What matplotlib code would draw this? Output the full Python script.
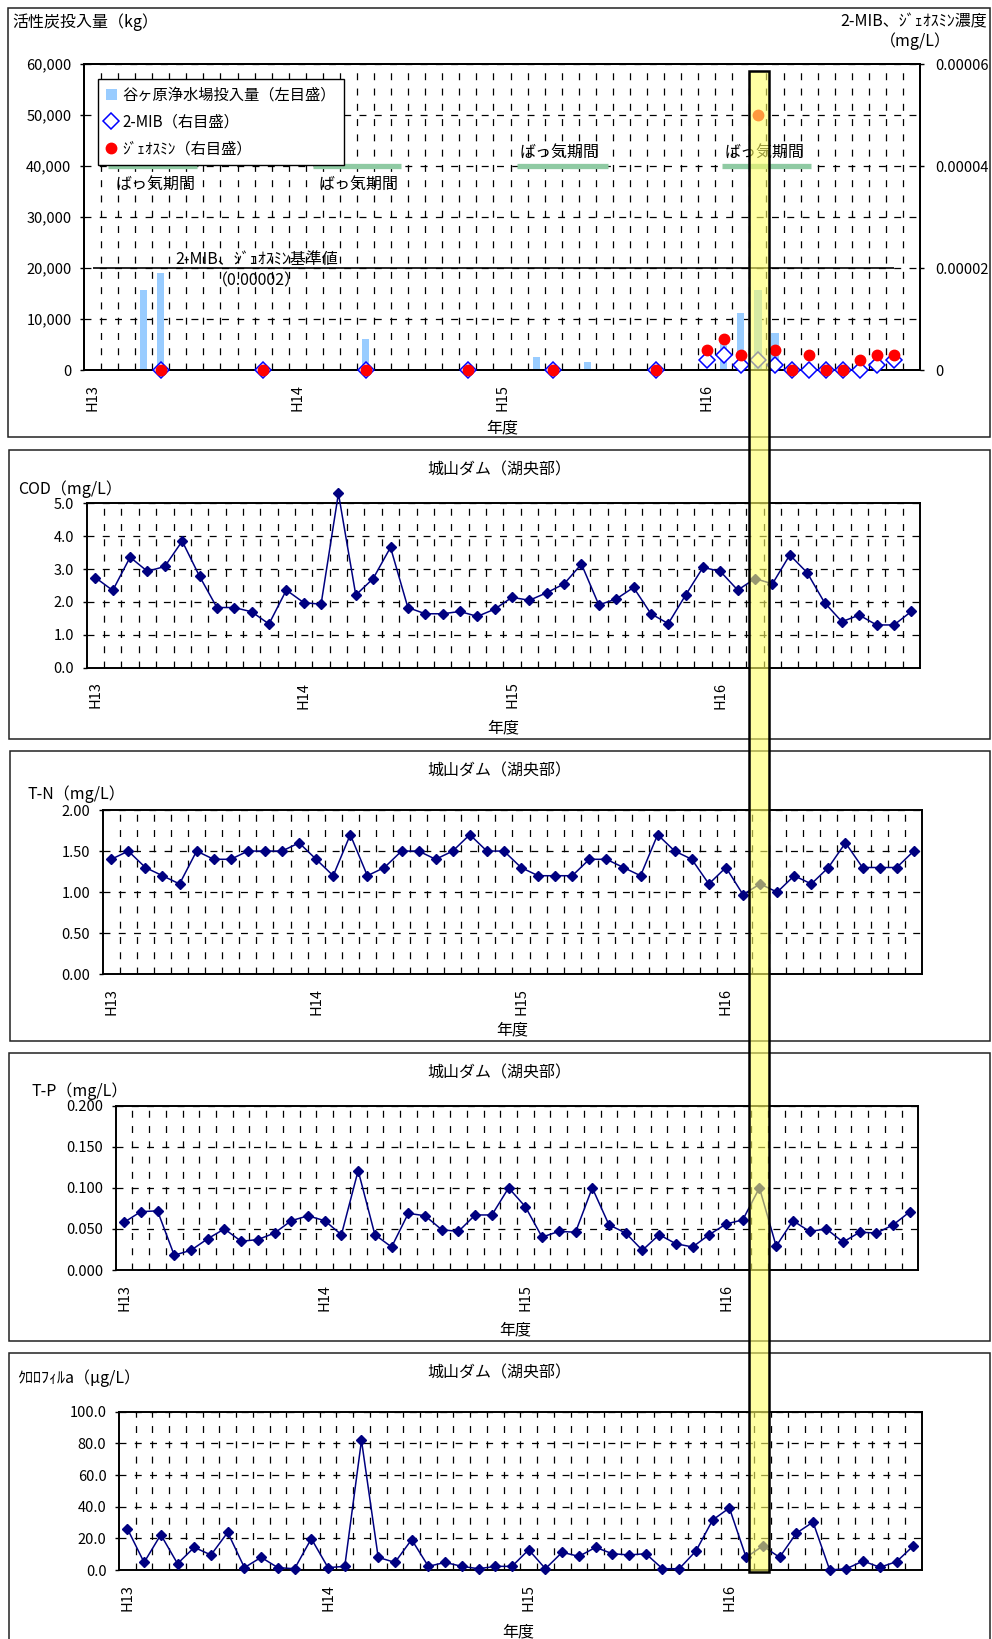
import numpy as np
import matplotlib
matplotlib.use('Agg')
import matplotlib.pyplot as plt
from matplotlib.patches import Rectangle
from matplotlib.ticker import FuncFormatter

plt.rcParams['font.family'] = ['Noto Sans CJK JP', 'DejaVu Sans']
plt.rcParams['font.size'] = 11.5
plt.rcParams['xtick.labelsize'] = 10.5
plt.rcParams['ytick.labelsize'] = 10.5
plt.rcParams['lines.scale_dashes'] = False

# activated carbon dosing at the Yagahara plant (month index from H13 April)
carbon_month = [3, 4, 16, 26, 29, 37, 38, 39, 40]
carbon_kg = [15700, 19000, 6000, 2500, 1600, 5500, 11200, 15700, 7300]

# odour compounds (mg/L)
odor_month = [4, 10, 16, 22, 27, 33, 36, 37, 38, 39, 40, 41, 42, 43, 44, 45, 46, 47]
mib = [0, 0, 0, 0, 0, 0, 2e-6, 3e-6, 1e-6, 2e-6, 1e-6, 0, 0, 0, 0, 0, 1e-6, 2e-6]
geosmin = [0, 0, 0, 0, 0, 0, 4e-6, 6e-6, 3e-6, 5e-5, 4e-6, 0, 3e-6, 0, 0, 2e-6, 3e-6, 3e-6]
odor_standard = 0.00002

# aeration periods (month index, start/end)
aeration = [(0.9, 6.1), (12.9, 18.1), (24.9, 30.2), (36.9, 42.1)]

year_labels = ['H13', 'H14', 'H15', 'H16']

# Shiroyama dam, lake centre, monthly
cod = [2.74, 2.35, 3.36, 2.93, 3.08, 3.85, 2.78, 1.83, 1.83, 1.70, 1.33, 2.36,
       1.98, 1.93, 5.30, 2.21, 2.71, 3.66, 1.83, 1.64, 1.64, 1.71, 1.56, 1.78,
       2.14, 2.05, 2.28, 2.55, 3.15, 1.91, 2.09, 2.44, 1.64, 1.34, 2.21, 3.05,
       2.93, 2.36, 2.71, 2.55, 3.43, 2.89, 1.98, 1.40, 1.60, 1.30, 1.30, 1.71]
tn = [1.4, 1.5, 1.3, 1.2, 1.1, 1.5, 1.4, 1.4, 1.5, 1.5, 1.5, 1.6,
      1.4, 1.2, 1.7, 1.2, 1.3, 1.5, 1.5, 1.4, 1.5, 1.7, 1.5, 1.5,
      1.3, 1.2, 1.2, 1.2, 1.4, 1.4, 1.3, 1.2, 1.7, 1.5, 1.4, 1.1,
      1.3, 0.97, 1.1, 1.0, 1.2, 1.1, 1.3, 1.6, 1.3, 1.3, 1.3, 1.5]
tp = [0.058, 0.071, 0.072, 0.018, 0.024, 0.038, 0.050, 0.035, 0.037, 0.045, 0.060, 0.066,
      0.060, 0.043, 0.121, 0.043, 0.028, 0.069, 0.066, 0.049, 0.047, 0.067, 0.067, 0.100,
      0.077, 0.040, 0.047, 0.046, 0.100, 0.055, 0.045, 0.024, 0.043, 0.032, 0.028, 0.043,
      0.056, 0.061, 0.100, 0.029, 0.060, 0.047, 0.050, 0.034, 0.046, 0.045, 0.055, 0.071]
chla = [26.1, 4.8, 22.3, 4.0, 14.3, 9.5, 23.8, 1.5, 8.0, 1.5, 0.8, 19.8,
        1.5, 2.3, 81.9, 8.0, 4.8, 19.2, 2.3, 4.8, 2.3, 0.8, 2.3, 2.3,
        12.8, 0.8, 11.2, 8.6, 14.3, 10.3, 9.5, 10.3, 0.8, 0.8, 12.0, 31.6,
        39.2, 8.0, 15.2, 8.0, 23.2, 30.3, 0.0, 0.8, 5.7, 1.7, 5.3, 15.2]

W, H = 992, 1639
fig = plt.figure(figsize=(W / 100, H / 100), dpi=100)

DASH = (0, (5, 6))
NAVY = '#000080'


def px_axes(left, top, right, bottom):
    return fig.add_axes([left / W, 1 - bottom / H, (right - left) / W, (bottom - top) / H])


def px_text(x, y, s, **kw):
    kw.setdefault('va', 'center')
    return fig.text(x / W, 1 - y / H, s, **kw)


def panel_border(left, top, right, bottom):
    fig.add_artist(Rectangle((left / W, 1 - bottom / H), (right - left) / W, (bottom - top) / H,
                             transform=fig.transFigure, fill=False, ec='#222222', lw=1.1, zorder=2))


def style_axes(ax, ncat):
    ax.set_xlim(-0.5, ncat - 0.5)
    ax.set_xticks([0, 12, 24, 36])
    ax.set_xticklabels(year_labels, rotation=90, va='top')
    ax.set_xticks(np.arange(0.5, ncat - 1, 1), minor=True)
    ax.tick_params(axis='x', which='both', length=0, pad=10)
    ax.tick_params(axis='y', which='major', length=3, width=1, direction='out', pad=6)
    ax.grid(axis='x', which='minor', color='black', lw=0.9, ls=DASH)
    ax.grid(axis='y', which='major', color='black', lw=0.9, ls=DASH)
    for sp in ax.spines.values():
        sp.set_linewidth(1.4)
    ax.set_axisbelow(True)


# ---- activated carbon and odour compounds ----
panel_border(8, 8, 990, 437)
ax1 = px_axes(84, 64, 920, 370)
style_axes(ax1, 49)
bars = ax1.bar(carbon_month, carbon_kg, width=0.42, color='#99ccff', zorder=2,
               label='谷ヶ原浄水場投入量（左目盛）')
ax1.set_ylim(0, 60000)
ax1.set_yticks(np.arange(0, 60001, 10000))
ax1.yaxis.set_major_formatter(FuncFormatter(lambda v, p: f'{int(v):,}'))

for start, end in aeration:
    ax1.plot([start, end], [40000, 40000], color='#8fcaa3', lw=3.8, solid_capstyle='butt', zorder=3)
ax1.text(3.7, 36400, 'ばっ気期間', ha='center', va='center', zorder=4)
ax1.text(15.6, 36400, 'ばっ気期間', ha='center', va='center', zorder=4)
ax1.text(27.4, 42700, 'ばっ気期間', ha='center', va='center', zorder=4)
ax1.text(39.4, 42700, 'ばっ気期間', ha='center', va='center', zorder=4)

ax2 = ax1.twinx()
ax2.set_xlim(-0.5, 48.5)
ax2.set_ylim(0, 0.00006)
ax2.set_yticks([0, 0.00002, 0.00004, 0.00006])
ax2.set_yticklabels(['0', '0.00002', '0.00004', '0.00006'])
ax2.tick_params(axis='y', length=3, width=1, direction='out', pad=8)
for sp in ax2.spines.values():
    sp.set_linewidth(1.4)
ax2.hlines(odor_standard, 0, 47, color='black', lw=1.2, zorder=3)
ax2.text(9.6, 0.0000216, '2-MIB、ｼﾞｪｵｽﾐﾝ基準値', ha='center', va='center')
ax2.text(9.6, 0.0000174, '（0.00002）', ha='center', va='center')
mib_line, = ax2.plot(odor_month, mib, ls='none', marker='D', ms=8, mfc='white',
                     mec='#0000ff', mew=1.1, zorder=5, clip_on=False, label='2-MIB（右目盛）')
geo_line, = ax2.plot(odor_month, geosmin, ls='none', marker='o', ms=7.5, mfc='#ff0000',
                     mec='#ff0000', zorder=6, clip_on=False, label='ｼﾞｪｵｽﾐﾝ（右目盛）')

leg = ax2.legend(handles=[bars, mib_line, geo_line], loc='upper left',
                 bbox_to_anchor=(98 / W, 1 - 79 / H), bbox_transform=fig.transFigure,
                 fancybox=False, framealpha=1, edgecolor='black', borderaxespad=0,
                 handlelength=0.75, handleheight=0.75, handletextpad=0.35,
                 labelspacing=0.65, borderpad=0.5, fontsize=11)
leg.get_frame().set_linewidth(1.0)
leg.set_zorder(10)

px_text(12, 22, '活性炭投入量（kg）', ha='left')
px_text(987, 22, '2-MIB、ｼﾞｪｵｽﾐﾝ濃度', ha='right')
px_text(915, 41, '（mg/L）', ha='center')
px_text(502, 428, '年度', ha='center')


# ---- water quality panels ----
def quality_panel(box, plot, values, ymax, ystep, fmt, ylabel, ylabel_xy, title_y, nendo_xy):
    panel_border(*box)
    ax = px_axes(*plot)
    style_axes(ax, len(values))
    ax.plot(range(len(values)), values, color=NAVY, lw=1.1, marker='D', ms=5.5,
            mfc=NAVY, mec=NAVY, clip_on=False, zorder=3)
    ax.set_ylim(0, ymax)
    ax.set_yticks(np.arange(0, ymax + ystep / 2, ystep))
    ax.yaxis.set_major_formatter(FuncFormatter(lambda v, p: fmt.format(v)))
    px_text(ylabel_xy[0], ylabel_xy[1], ylabel, ha='left')
    px_text(499, title_y, '城山ダム（湖央部）', ha='center')
    px_text(nendo_xy[0], nendo_xy[1], '年度', ha='center')
    return ax


quality_panel((9, 450, 990, 739), (86.7, 503.3, 920, 667.7), cod, 5.0, 1.0, '{:.1f}',
              'COD（mg/L）', (18, 489), 470, (503, 728))
quality_panel((10, 751, 990, 1041), (102.7, 810, 922.3, 974.3), tn, 2.0, 0.5, '{:.2f}',
              'T-N（mg/L）', (28, 794), 771, (512, 1030))
quality_panel((9, 1053, 990, 1341), (115.7, 1105.7, 918.3, 1270), tp, 0.2, 0.05, '{:.3f}',
              'T-P（mg/L）', (32, 1091), 1073, (515, 1330))
quality_panel((9, 1353, 990, 1660), (119, 1411.7, 921.7, 1570), chla, 100.0, 20.0, '{:.1f}',
              'ｸﾛﾛﾌｨﾙa（μg/L）', (17, 1378), 1373, (518, 1632))

# highlighted month running through all panels
fig.add_artist(Rectangle((749 / W, 1 - 1572 / H), 20 / W, (1572 - 71) / H,
                         transform=fig.transFigure, fc='#ffff66', alpha=0.6,
                         ec='none', zorder=20))
fig.add_artist(Rectangle((749 / W, 1 - 1572 / H), 20 / W, (1572 - 71) / H,
                         transform=fig.transFigure, fill=False, ec='black', lw=1.8, zorder=21))

fig.savefig('out.png', dpi=100, facecolor='white')
